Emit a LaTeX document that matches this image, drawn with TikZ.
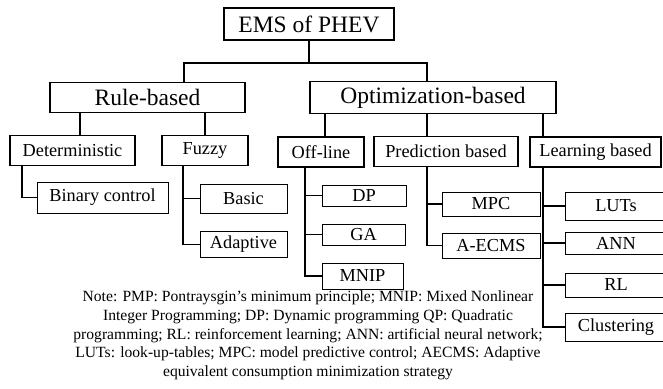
\documentclass[tikz,border=0pt]{standalone}
\usepackage{fontspec}
\setmainfont{Liberation Serif}
\usetikzlibrary{calc,positioning}
\tikzstyle{headbox} = [rectangle, draw=black, line width=1.6pt, inner sep=0pt, text centered, font=\fontsize{23.5}{26}\selectfont]
\tikzstyle{subbox} = [rectangle, draw=black, line width=1.6pt, inner sep=0pt, minimum height=30pt, text centered, font=\fontsize{18.3}{21}\selectfont]
\tikzstyle{leafbox} = [rectangle, draw=black, line width=0.8pt, inner sep=0pt, text centered, font=\fontsize{18.3}{21}\selectfont]
\tikzstyle{branch} = [line width=1.8pt, -]

\begin{document}
\begin{tikzpicture}[x=1pt,y=-1pt]
\useasboundingbox (0,0) rectangle (663,388);
% top
\node (root) [headbox, minimum width=170pt, minimum height=32pt] at (309,24) {EMS of PHEV};
\node (rule) [headbox, minimum width=195pt, minimum height=30pt] at (147.5,97.5) {Rule-based};
\node (opt) [headbox, minimum width=246pt, minimum height=32pt] at (433,97.5) {Optimization-based};
% second level
\node (det) [subbox, minimum width=125pt] at (72.5,150.5) {Deterministic};
\node (fuzzy) [subbox, minimum width=86pt] at (205,150.5) {Fuzzy};
\node (offline) [subbox, minimum width=86pt] at (321,152) {Off-line};
\node (pred) [subbox, minimum width=144pt] at (446,151.5) {Prediction based};
\node (learn) [subbox, minimum width=131pt] at (595.5,152) {Learning based};
% leaves
\node (binary) [leafbox, minimum width=131pt, minimum height=31pt] at (102.5,197.5) {Binary control};
\node (basic) [leafbox, minimum width=87pt, minimum height=29pt] at (243.5,198.5) {Basic};
\node (adaptive) [leafbox, minimum width=87pt, minimum height=26pt] at (243.5,244.5) {Adaptive};
\node (dp) [leafbox, minimum width=84pt, minimum height=21pt] at (364,195.5) {DP};
\node (ga) [leafbox, minimum width=83pt, minimum height=21pt] at (363.5,234.5) {GA};
\node (mnip) [leafbox, minimum width=81pt, minimum height=26pt] at (362.5,276) {MNIP};
\node (mpc) [leafbox, minimum width=98pt, minimum height=24pt] at (491,204) {MPC};
\node (aecms) [leafbox, minimum width=98pt, minimum height=25pt] at (491,245.5) {A-ECMS};
\node (luts) [leafbox, minimum width=102pt, minimum height=28pt] at (616,206) {LUTs};
\node (ann) [leafbox, minimum width=102pt, minimum height=22pt] at (616,243) {ANN};
\node (rl) [leafbox, minimum width=102pt, minimum height=24pt] at (616,285) {RL};
\node (clus) [leafbox, minimum width=102pt, minimum height=28pt] at (616,327) {Clustering};
% note
\node (note) [align=center, font=\fontsize{15.6}{18.7}\selectfont] at (308,335.5) {Note: PMP: Pontraysgin’s minimum principle; MNIP: Mixed Nonlinear\\
Integer Programming; DP: Dynamic programming QP: Quadratic\\
programming; RL: reinforcement learning; ANN: artificial neural network;\\
LUTs: look-up-tables; MPC: model predictive control; AECMS: Adaptive\\
equivalent consumption minimization strategy};
% connectors
\coordinate (j0) at (309,63);
\coordinate (jr) at ([xshift=-22pt]fuzzy.south);
\coordinate (jo) at ([xshift=-16pt]offline.south);
\coordinate (jp) at ([xshift=-19pt]pred.south);
\coordinate (jl) at ([xshift=-52.5pt]learn.south);
\draw [branch] (root.south) -- (j0);
\draw [branch] (j0) -| ([xshift=36.5pt]rule.north);
\draw [branch] (j0) -| ([xshift=-6pt]opt.north);
\draw [branch] ([xshift=-67.5pt]rule.south) -- ([xshift=7.5pt]det.north);
\draw [branch] ([xshift=57.5pt]rule.south) -- (fuzzy.north);
\draw [branch] ([xshift=-108pt]opt.south) -- ([xshift=4pt]offline.north);
\draw [branch] ([xshift=-6pt]opt.south) -- ([xshift=-19pt]pred.north);
\draw [branch] ([xshift=110pt]opt.south) -- ([xshift=-52.5pt]learn.north);
\draw [branch] ([xshift=-50.5pt]det.south) |- (binary.west);
\draw [branch] (jr) |- (adaptive.west);
\draw [branch] (jr |- basic.west) -- (basic.west);
\draw [branch] (jo) |- (mnip.west);
\draw [branch] (jo |- dp.west) -- (dp.west);
\draw [branch] (jo |- ga.west) -- (ga.west);
\draw [branch] (jp) |- (aecms.west);
\draw [branch] (jp |- mpc.west) -- (mpc.west);
\draw [branch] (jl) |- (clus.west);
\draw [branch] (jl |- luts.west) -- (luts.west);
\draw [branch] (jl |- ann.west) -- (ann.west);
\draw [branch] (jl |- rl.west) -- (rl.west);
\end{tikzpicture}
\end{document}
